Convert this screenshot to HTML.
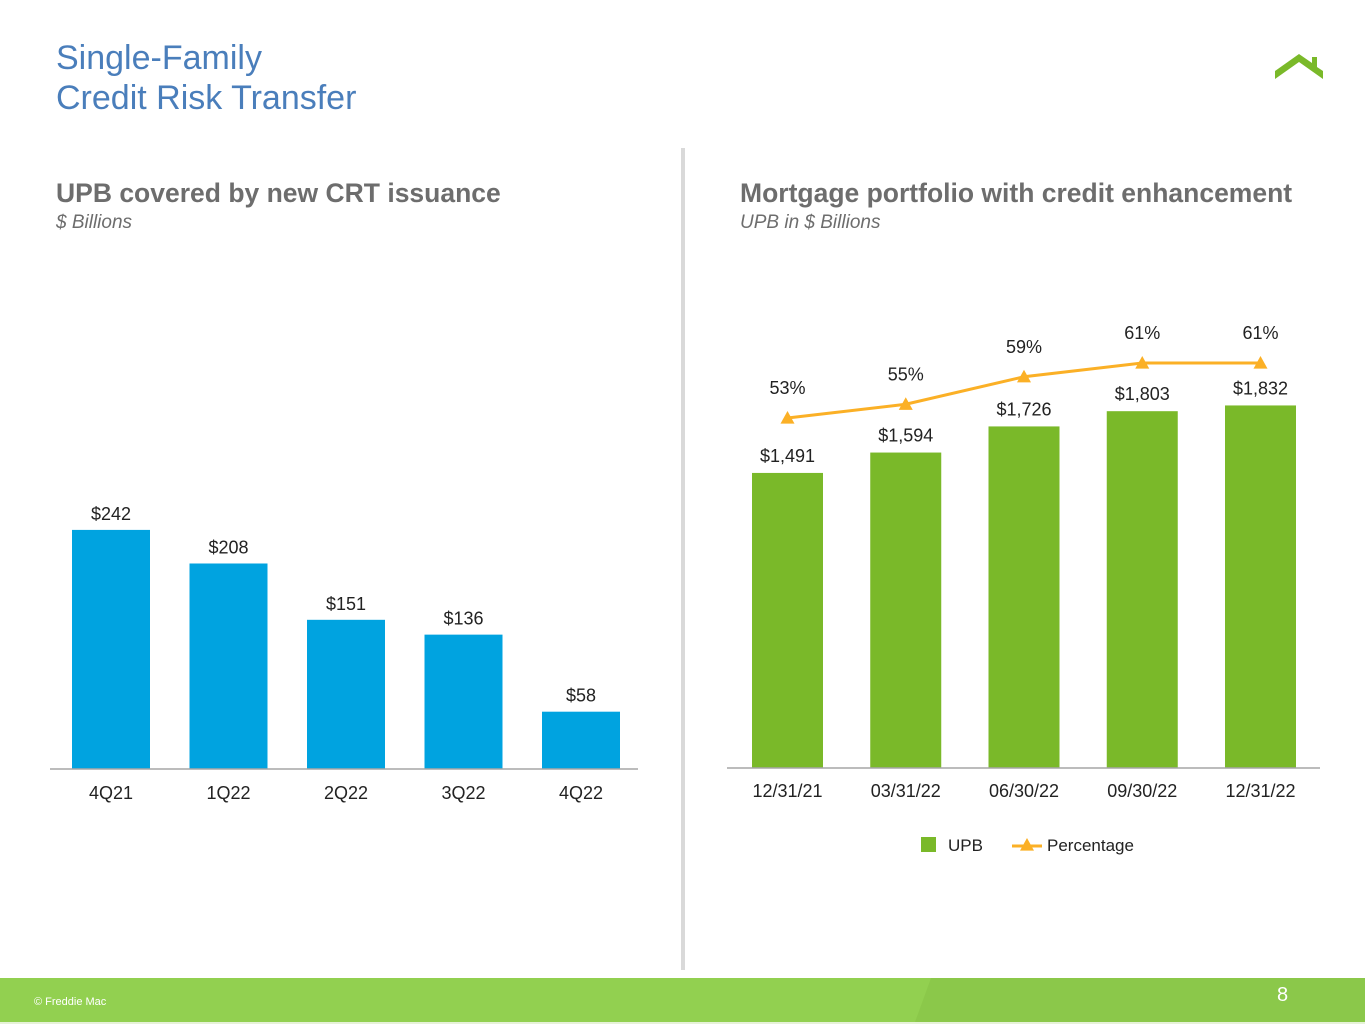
<!DOCTYPE html>
<html><head><meta charset="utf-8">
<style>
html,body{margin:0;padding:0;background:#fff;}
body{width:1365px;height:1024px;position:relative;overflow:hidden;font-family:"Liberation Sans",Arial,sans-serif;}
.t{position:absolute;white-space:nowrap;}
</style></head>
<body>
<div class="t" style="left:56px;top:38px;font-size:34px;line-height:40px;color:#4a7ebb;">Single-Family<br>Credit Risk Transfer</div>
<svg style="position:absolute;left:1272px;top:50px" width="54" height="32">
<polygon points="3,29 27,12 51,29 51,21 45,17 45,7 40,7 40,13 27,4 3,21" fill="#7ab929"/>
</svg>
<div class="t" style="left:56px;top:178px;font-size:26.5px;font-weight:bold;color:#6d6d6d;">UPB covered by new CRT issuance</div>
<div class="t" style="left:56px;top:212px;font-size:19px;font-style:italic;color:#6d6d6d;">$ Billions</div>
<div class="t" style="left:740px;top:178px;font-size:26.5px;font-weight:bold;color:#6d6d6d;">Mortgage portfolio with credit enhancement</div>
<div class="t" style="left:740px;top:212px;font-size:19px;font-style:italic;color:#6d6d6d;">UPB in $ Billions</div>
<div style="position:absolute;left:681px;top:148px;width:4px;height:822px;background:#d9d9d9;"></div>

<svg id="chart" style="position:absolute;left:0;top:0" width="1365" height="960" font-family="Liberation Sans, Arial, sans-serif"></svg>

<div style="position:absolute;left:0;top:978px;width:1365px;height:44px;background:#92d050;overflow:hidden;">
<div style="position:absolute;left:915px;top:0;width:600px;height:44px;background:#8bc84a;transform:skewX(-20deg);transform-origin:0 100%;"></div>
<div class="t" style="left:34px;top:18px;font-size:11px;color:#fff;">© Freddie Mac</div>
<div class="t" style="left:1277px;top:6px;font-size:20px;color:#fff;">8</div>
</div>
<div style="position:absolute;left:0;top:1022px;width:1365px;height:2px;background:#e6f2d8;"></div>

<script>
const leftCats = ["4Q21","1Q22","2Q22","3Q22","4Q22"];
const leftVals = [242,208,151,136,58];
const rightCats = ["12/31/21","03/31/22","06/30/22","09/30/22","12/31/22"];
const upbVals = [1491,1594,1726,1803,1832];
const pctVals = [53,55,59,61,61];

const NS="http://www.w3.org/2000/svg";
const svg=document.getElementById('chart');
function mk(tag,attrs,parent){const e=document.createElementNS(NS,tag);for(const k in attrs)e.setAttribute(k,attrs[k]);(parent||svg).appendChild(e);return e;}
function txt(x,y,s,size,fill){const e=mk('text',{x:x,y:y,'text-anchor':'middle','font-size':size,fill:fill||'#222'});e.textContent=s;return e;}

// left chart
const lBase=769, lX0=111, lStep=117.5, lScale=0.988, lW=78;
const lx=i=>lX0+i*lStep, ly=v=>lBase-v*lScale;
leftVals.forEach((v,i)=>{
  const r=mk('rect',{x:lx(i)-lW/2,y:ly(v),width:lW,height:lBase-ly(v),fill:'#00a3e0'});
  
  
  const t=txt(lx(i),ly(v)-10,'$'+v,18);
  
  
  const c=txt(lx(i),799,leftCats[i],18);
  
  
});
const la=mk('line',{x1:50,x2:638,y1:lBase,y2:lBase,stroke:'#a6a6a6','stroke-width':1.5});



// right chart
const rBase=768, rX0=787.5, rStep=118.25, rScale=0.1979, rW=71;
const rx=i=>rX0+i*rStep, ry=v=>rBase-v*rScale;
const py=p=>418-(p-53)*6.875;
upbVals.forEach((v,i)=>{
  const r=mk('rect',{x:rx(i)-rW/2,y:ry(v),width:rW,height:rBase-ry(v),fill:'#7ab929'});
  
  
  const t=txt(rx(i),ry(v)-11,'$'+v.toLocaleString('en-US'),18);
  
  
  const c=txt(rx(i),797,rightCats[i],18);
  
  
});
const ra=mk('line',{x1:727,x2:1320,y1:rBase,y2:rBase,stroke:'#a6a6a6','stroke-width':1.5});


const pl=mk('polyline',{points:pctVals.map((p,i)=>rx(i)+','+py(p)).join(' '),fill:'none',stroke:'#fbb026','stroke-width':3});


function tri(x,y,s){return mk('polygon',{points:`${x},${y-s} ${x+s},${y+s*0.8} ${x-s},${y+s*0.8}`,fill:'#fbb026'});}
pctVals.forEach((p,i)=>{
  const m=tri(rx(i),py(p),7);
  
  
  const t=txt(rx(i),py(p)-24,p+'%',18);
  
  
});

// legend
const lg=mk('g',{});


mk('rect',{x:921,y:837,width:15,height:15,fill:'#7ab929'},lg);
const l1=mk('text',{x:948,y:851,'font-size':17,fill:'#222'},lg);l1.textContent='UPB';
mk('line',{x1:1012,x2:1042,y1:846,y2:846,stroke:'#fbb026','stroke-width':3},lg);
const tm=tri(1027,845,7);lg.appendChild(tm);
const l2=mk('text',{x:1047,y:851,'font-size':17,fill:'#222'},lg);l2.textContent='Percentage';
</script>
</body></html>
